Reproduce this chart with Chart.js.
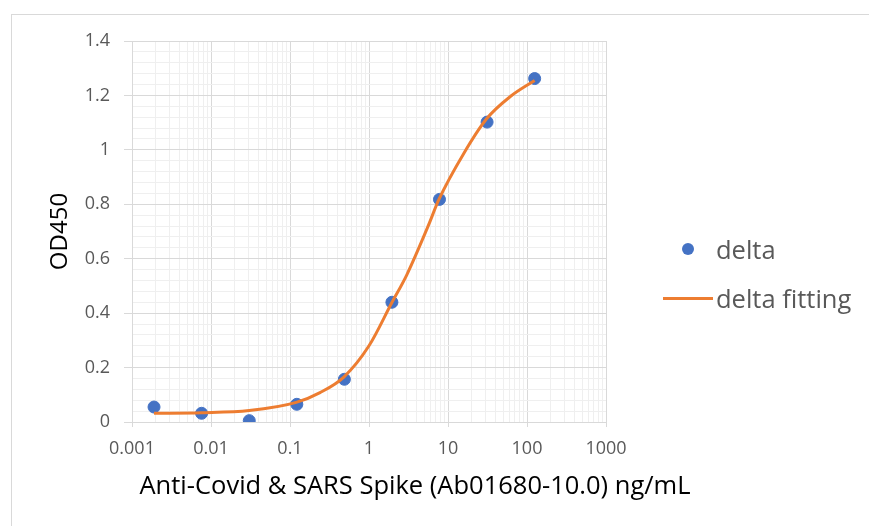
<!DOCTYPE html>
<html>
<head>
<meta charset="utf-8">
<script src="https://cdn.jsdelivr.net/npm/chart.js@4.4.1/dist/chart.umd.min.js"></script>
<style>
    html, body { margin: 0; padding: 0; background: #fff; overflow: hidden; }
    #wrap { position: relative; width: 869px; height: 526px; font-family: 'Open Sans', sans-serif; }
    #frame { position: absolute; left: 11px; top: 14px; width: 900px; height: 600px;
             border-left: 1px solid #d9d9d9; border-top: 1px solid #d9d9d9; }
    #canvas { position: absolute; left: 0; top: 0; }
    .item { position: absolute; left: 663px; height: 30px; display: flex; align-items: center; }
    .item .mark { width: 50px; height: 30px; display: flex; align-items: center; justify-content: center; }
    .item .dot { width: 12px; height: 12px; border-radius: 50%; }
    .item .line { width: 50px; height: 3px; }
    .item .text { margin-left: 3px; font-size: 25.5px; line-height: 30px; color: #595959; white-space: nowrap; }
</style>
</head>
<body>
<div id="wrap">
    <div id="frame"></div>
    <canvas id="canvas" width="869" height="526"></canvas>
    <div id="legend"></div>
</div>
<script>
const xMajor = [0.001, 0.01, 0.1, 1, 10, 100, 1000]
const xTickLabels = ['0.001', '0.01', '0.1', '1', '10', '100', '1000']
const yMajor = [0, 0.2, 0.4, 0.6, 0.8, 1, 1.2, 1.4]
const yTickLabels = ['0', '0.2', '0.4', '0.6', '0.8', '1', '1.2', '1.4']

// measured points (ng/mL, OD450)
const conc = [0.0019, 0.0076, 0.0305, 0.122, 0.488, 1.95, 7.8, 31.25, 125]
const delta = [0.055, 0.032, 0.005, 0.065, 0.157, 0.44, 0.818, 1.102, 1.262]

// fitted curve
const fitConc = [0.0019, 0.0076, 0.0305, 0.12, 0.24, 0.48, 1.0, 1.95, 3.0, 5.7, 7.6, 15.7, 31, 61.5, 125]
const fitOD = [0.032, 0.034, 0.042, 0.072, 0.108, 0.165, 0.28, 0.439, 0.54, 0.725, 0.815, 0.985, 1.115, 1.196, 1.255]

const labels = ['delta', 'delta fitting']
const xTitle = 'Anti-Covid & SARS Spike (Ab01680-10.0) ng/mL'
const yTitle = 'OD450'

const blue = '#4472C4'
const orange = '#ED7D31'
const gridMajor = '#d9d9d9'
const gridMinor = '#efefef'
const textGrey = '#595959'

Chart.defaults.font.family = "'Open Sans', sans-serif"

const near = (a, b) => Math.abs(a - b) < 1e-9
const isMajorX = v => xMajor.some(m => near(Math.log10(m), Math.log10(v)))
const isMajorY = v => yMajor.some(m => near(m, v))

function logTicks(majors) {
    const out = []
    majors.forEach((m, i) => {
        out.push({ value: m })
        if (i < majors.length - 1) {
            for (let k = 2; k <= 9; k++) out.push({ value: m * k })
        }
    })
    return out
}

function linTicks(majors, parts) {
    const out = []
    majors.forEach((m, i) => {
        out.push({ value: m })
        if (i < majors.length - 1) {
            const step = (majors[i + 1] - m) / parts
            for (let k = 1; k < parts; k++) out.push({ value: Math.round((m + k * step) * 1e6) / 1e6 })
        }
    })
    return out
}

// html legend, built from the chart's own legend items
const legendCenters = [249, 298]
function htmlLegend(chart) {
    const box = document.getElementById('legend')
    box.innerHTML = ''
    const items = chart.options.plugins.legend.labels.generateLabels(chart)
        .sort((a, b) => a.datasetIndex - b.datasetIndex)
    items.forEach((it, i) => {
        const ds = chart.data.datasets[it.datasetIndex]
        const row = document.createElement('div')
        row.className = 'item'
        row.style.top = (legendCenters[i] - 15) + 'px'
        const mark = document.createElement('span')
        mark.className = 'mark'
        const sw = document.createElement('span')
        sw.className = ds.type === 'line' ? 'line' : 'dot'
        sw.style.background = ds.type === 'line' ? ds.borderColor : ds.backgroundColor
        mark.appendChild(sw)
        const text = document.createElement('span')
        text.className = 'text'
        text.textContent = it.text
        row.appendChild(mark)
        row.appendChild(text)
        box.appendChild(row)
    })
}

const ctx = document.getElementById('canvas')

const chart = new Chart(ctx, {
    type: 'scatter',
    data: {
        datasets: [
            {
                label: labels[0],
                data: conc.map((x, i) => ({ x, y: delta[i] })),
                backgroundColor: blue,
                borderColor: blue,
                pointRadius: 6,
                pointHoverRadius: 6,
                order: 1,
            },
            {
                label: labels[1],
                type: 'line',
                data: fitConc.map((x, i) => ({ x, y: fitOD[i] })),
                borderColor: orange,
                backgroundColor: orange,
                borderWidth: 3,
                pointRadius: 0,
                cubicInterpolationMode: 'monotone',
                fill: false,
                order: 0,
            },
        ],
    },
    options: {
        responsive: false,
        animation: false,
        layout: {
            padding: { left: 0, top: 41, right: 39, bottom: 0 },
        },
        plugins: {
            tooltip: { enabled: false },
            legend: { display: false },
            title: {
                display: true,
                position: 'bottom',
                text: xTitle,
                color: '#000',
                font: { size: 25.5, weight: 'normal' },
                padding: { top: 4.7, bottom: 23.7 },
            },
        },
        scales: {
            x: {
                type: 'logarithmic',
                position: 'bottom',
                min: xMajor[0],
                max: xMajor[xMajor.length - 1],
                afterBuildTicks: scale => { scale.ticks = logTicks(xMajor) },
                afterFit: scale => { scale.height = 45 },
                ticks: {
                    autoSkip: false,
                    maxRotation: 0,
                    padding: 11,
                    color: textGrey,
                    font: { size: 18 },
                    callback: v => {
                        const i = xMajor.findIndex(m => near(Math.log10(m), Math.log10(v)))
                        return i >= 0 ? xTickLabels[i] : ''
                    },
                },
                grid: {
                    color: c => isMajorX(c.tick.value) ? gridMajor : gridMinor,
                    tickColor: c => isMajorX(c.tick.value) ? gridMajor : 'rgba(0,0,0,0)',
                    tickLength: 5,
                },
                border: { color: gridMajor },
            },
            y: {
                type: 'linear',
                min: yMajor[0],
                max: yMajor[yMajor.length - 1],
                afterBuildTicks: scale => { scale.ticks = linTicks(yMajor, 5) },
                afterFit: scale => { scale.width = 132 },
                ticks: {
                    autoSkip: false,
                    padding: 14,
                    color: textGrey,
                    font: { size: 18 },
                    callback: v => {
                        const i = yMajor.findIndex(m => near(m, v))
                        return i >= 0 ? yTickLabels[i] : ''
                    },
                },
                grid: {
                    color: c => isMajorY(c.tick.value) ? gridMajor : gridMinor,
                    tickColor: c => isMajorY(c.tick.value) ? gridMajor : 'rgba(0,0,0,0)',
                    tickLength: 8,
                },
                border: { color: gridMajor },
                title: {
                    display: true,
                    text: yTitle,
                    color: '#000',
                    font: { size: 24 },
                    padding: { top: 45.6, bottom: 0 },
                },
            },
            // empty axis on the right keeps room for the legend
            legendSpace: {
                type: 'linear',
                position: 'right',
                afterFit: scale => { scale.width = 224 },
                grid: { display: false },
                ticks: { display: false },
                border: { display: false },
            },
        },
    },
});

htmlLegend(chart)
</script>
</body>
</html>
